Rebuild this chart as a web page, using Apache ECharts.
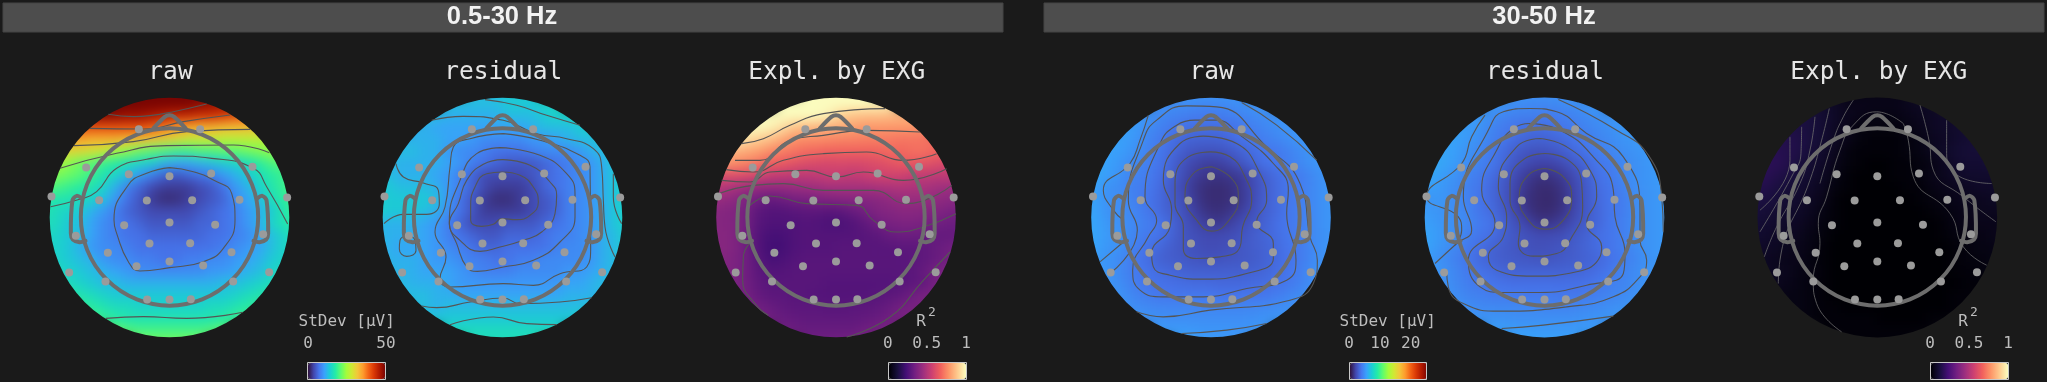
<!DOCTYPE html>
<html><head><meta charset="utf-8">
<style>html,body{margin:0;padding:0;background:#1a1a1a}#c{width:2047px;height:382px;background:#1a1a1a}</style>
<script src="https://cdn.jsdelivr.net/npm/echarts@6/dist/echarts.min.js"></script>
</head><body><div id="c"></div>
<script>
// Field values. Each row is centred on the map; rows run from top to bottom.
// raw / residual 0.5-30 Hz in µV; raw / residual 30-50 Hz in 0.1 µV; Expl. by EXG in R² x 100.
const rawLow=[
[50,50,50,50,50,50],
[50,50,50,50,50,50,50,49,48,47],
[49,49,49,48,48,47,46,45,45,44,44,43,41,40],
[41,41,41,41,41,41,40,38,36,35,34,34,33,33,33,32],
[35,35,34,34,34,33,33,32,31,30,28,28,28,27,27,27,27,27],
[31,30,30,29,28,25,24,22,21,20,19,19,20,20,21,21,22,23,24,25],
[26,24,22,21,19,18,16,15,14,12,11,11,12,13,14,15,16,18,20,21],
[24,23,22,21,19,17,15,13,10,8,6,5,6,7,8,10,12,14,16,18,19,21],
[21,20,19,18,17,15,12,8,6,4,3,3,3,4,5,7,10,12,15,17,19,21],
[18,17,17,16,15,13,10,7,5,3,2,2,3,4,5,6,9,11,13,16,18,20],
[17,16,15,14,12,10,8,6,5,4,4,4,4,5,6,7,8,10,12,14,17,19],
[16,16,14,13,11,9,8,7,6,5,5,5,5,6,6,7,8,10,12,15,17,18],
[16,15,14,13,11,9,8,7,7,6,6,6,6,6,7,7,8,9,11,13,15,17],
[15,15,14,12,10,9,9,8,7,7,7,7,7,7,7,8,9,10,11,13,15,16],
[16,15,14,13,12,10,9,9,8,8,7,7,8,8,9,9,10,11,12,14,15,16],
[16,15,14,13,12,11,10,9,9,9,9,9,9,10,10,11,12,13,15,16],
[17,16,15,14,13,13,12,12,12,12,12,12,12,12,13,13,14,15,16,17],
[18,17,16,15,14,14,14,14,14,14,14,14,14,14,15,16,17,18],
[19,18,17,16,16,15,15,15,15,15,15,16,16,17,18,19],
[20,19,18,17,17,17,17,17,17,17,17,18,19,20],
[22,21,20,20,20,20,20,20,21,22],
[24,23,23,23,23,24]];
const residualLow=[
[13,13,13,14,14,14],
[13,13,13,13,13,14,14,14,15,15],
[13,13,12,12,12,12,12,13,13,13,14,15,15,16],
[12,12,11,11,11,11,11,11,11,11,12,13,13,13,14,15],
[12,12,12,12,11,11,10,9,9,9,9,10,10,11,12,13,13,14],
[13,13,13,12,12,10,9,9,8,7,7,7,8,9,9,9,10,12,13,14],
[13,12,12,12,12,11,10,8,7,6,5,5,5,6,7,8,9,10,12,14],
[14,13,12,12,12,11,10,8,6,4,4,4,4,5,6,7,8,9,10,12,14,15],
[14,14,13,13,13,12,10,8,6,4,3,3,3,4,6,7,8,9,10,12,14,15],
[15,14,14,14,14,13,10,7,5,3,2,2,3,4,5,6,8,9,10,12,14,15],
[15,14,14,14,13,12,9,7,5,3,3,3,3,4,5,6,8,9,10,12,14,15],
[13,12,12,12,11,10,8,6,4,4,4,5,5,5,6,7,8,9,10,12,14,15],
[13,12,12,12,11,10,8,7,6,5,5,6,6,6,7,8,8,9,10,12,13,15],
[13,12,11,11,11,10,9,8,7,6,6,7,7,7,7,8,9,9,10,12,13,15],
[13,12,12,12,11,10,10,9,8,8,7,7,8,8,9,9,9,9,10,12,13,15],
[13,12,12,11,11,11,10,9,8,8,8,9,9,9,9,10,10,11,12,13],
[13,13,12,12,12,11,10,10,10,10,10,10,10,10,10,11,11,12,13,14],
[13,13,13,12,12,11,11,11,11,11,11,11,11,11,12,12,12,13],
[13,13,12,13,13,13,13,13,13,13,13,13,13,13,13,14],
[14,14,14,14,14,14,14,14,14,14,14,14,14,15],
[16,16,16,16,16,16,16,16,16,16],
[16,16,16,16,16,16]];
const explLow=[
[100,100,100,100,100,100],
[100,100,100,100,100,100,100,100,100,98],
[100,100,100,100,100,100,97,90,88,87,87,86,85,84],
[100,100,98,94,88,86,84,83,82,80,78,78,78,78,78,77],
[98,94,90,87,82,77,76,76,75,74,74,73,73,72,71,71,70,70],
[88,84,82,80,76,73,71,69,68,67,67,67,67,67,69,68,70,70,67,67],
[80,76,74,71,66,65,62,60,59,58,59,58,59,60,62,65,64,62,60,58],
[62,60,61,60,58,54,53,52,52,53,55,54,53,55,57,57,56,53,53,52,53,52],
[50,50,47,44,42,42,42,43,44,45,46,46,46,46,47,48,49,48,47,45,44,43],
[44,42,40,36,33,30,32,34,35,36,37,38,39,38,39,41,43,43,43,41,40,38],
[40,38,37,34,28,26,26,27,28,28,27,28,31,34,37,38,39,39,38,37,35,34],
[38,38,37,34,27,25,25,25,26,25,24,24,26,29,33,35,36,36,35,33,32,32],
[38,39,37,33,26,23,23,25,26,26,26,26,26,27,28,31,32,32,31,30,30,30],
[38,39,37,33,26,22,22,25,26,26,26,27,27,27,27,27,28,28,29,31,33,34],
[38,38,36,33,27,23,24,26,27,27,27,27,27,27,27,27,27,28,29,31,34,35],
[37,36,33,28,26,26,27,27,27,27,27,27,27,27,27,27,28,31,35,36],
[37,36,33,29,27,27,27,27,27,26,26,26,26,26,26,27,28,30,35,36],
[37,34,30,28,28,27,27,26,26,26,26,26,27,28,29,33,35,36],
[36,33,31,29,28,28,28,27,27,28,28,29,31,34,35,36],
[35,33,31,30,29,29,29,29,29,30,31,33,35,36],
[33,32,31,31,31,31,31,33,35,36],
[33,33,33,34,35,36]];
const rawHigh=[
[50,50,50,50,50,50],
[48,47,46,45,44,44,45,47,48,50],
[52,50,45,42,41,39,38,38,40,42,44,46,48,50],
[54,52,46,42,38,35,33,33,33,34,37,40,43,46,48,50],
[55,53,50,44,39,35,31,29,29,29,31,35,37,40,43,46,49,51],
[56,54,52,48,43,38,33,28,24,23,23,25,29,33,36,37,41,45,49,51],
[55,53,49,44,41,37,31,24,19,16,16,19,24,30,35,37,40,44,48,50],
[58,56,52,47,42,40,35,30,23,16,13,12,13,15,21,28,33,36,39,44,48,50],
[56,52,47,45,40,38,34,27,21,14,10,9,10,14,20,27,32,37,39,44,48,50],
[56,52,47,46,41,37,33,27,23,15,10,9,10,13,20,28,32,37,40,44,48,50],
[56,53,47,46,43,38,33,28,24,17,12,10,12,16,22,28,32,37,40,44,48,50],
[56,54,49,47,44,40,37,32,25,20,16,13,16,21,25,29,34,37,40,44,48,50],
[57,54,50,48,43,38,36,31,25,22,20,20,21,23,27,30,33,37,40,44,47,50],
[57,53,49,47,41,36,32,28,25,23,21,21,22,25,27,29,32,36,38,44,48,50],
[56,50,48,44,38,34,29,27,26,24,23,23,24,25,26,29,32,35,38,44,48,50],
[53,48,44,38,36,33,31,29,28,28,28,28,28,29,30,33,36,40,46,50],
[52,49,45,40,36,35,34,33,32,32,31,31,31,32,33,35,37,41,46,50],
[50,48,42,40,37,36,36,37,37,36,35,36,36,36,39,42,45,49],
[50,46,44,43,43,43,43,42,42,42,42,43,44,45,47,50],
[50,49,47,46,46,46,46,46,46,46,47,48,49,50],
[52,51,51,50,49,49,49,49,49,50],
[55,53,52,51,50,50]];
const residualHigh=[
[50,49,49,49,50,51],
[52,50,47,45,44,44,45,47,49,51],
[54,51,47,43,41,41,40,39,40,42,45,47,49,51],
[55,52,49,43,39,36,33,33,34,37,39,42,45,47,50,52],
[56,54,51,47,42,37,33,30,29,30,32,36,38,42,45,48,50,52],
[57,55,53,48,44,38,33,28,24,23,24,27,32,36,40,43,46,48,50,52],
[57,55,52,46,42,38,32,25,21,18,18,21,26,31,37,39,43,47,49,51],
[58,56,52,48,43,39,34,28,21,15,12,12,15,21,28,35,38,43,47,49,51,52],
[54,53,50,46,41,37,32,26,19,13,9,9,12,19,26,33,36,41,46,48,50,52],
[51,49,50,45,42,36,32,26,18,11,9,8,11,18,26,32,36,39,45,48,50,52],
[53,50,48,46,43,37,33,27,20,13,9,9,12,19,26,31,36,39,45,48,50,52],
[55,52,49,47,44,39,36,30,23,18,13,13,16,22,27,31,37,40,45,48,50,52],
[56,54,50,47,41,37,34,29,25,23,21,21,22,26,29,34,36,40,45,48,50,52],
[56,53,48,44,38,34,30,27,25,23,22,23,24,27,30,33,36,40,45,48,50,52],
[55,50,46,41,37,32,29,27,26,25,24,24,26,27,29,31,35,38,43,47,49,52],
[52,48,44,38,36,33,30,29,29,29,29,29,30,31,34,37,42,45,48,51],
[52,48,44,40,37,36,35,34,34,34,34,34,34,35,37,40,42,45,48,51],
[50,46,42,41,39,38,38,38,38,38,37,37,38,40,42,44,47,50],
[50,46,44,44,44,44,44,43,42,42,43,44,45,46,48,50],
[52,50,49,48,47,47,47,47,47,47,48,49,50,51],
[53,53,52,52,51,51,51,51,52,52],
[55,55,54,54,54,54]];
const explHigh=[
[3,3,3,3,3,3],
[8,6,4,4,4,4,4,5,6,6],
[12,11,9,7,5,4,3,3,3,4,5,6,7,8],
[13,12,11,9,6,4,2,2,2,2,3,4,6,7,8,9],
[14,14,13,11,9,6,4,2,1,1,1,2,3,5,6,8,9,10],
[15,15,14,13,10,8,5,2,1,1,1,1,2,3,5,7,9,10,10,10],
[16,16,14,11,9,7,4,2,1,0,0,1,1,2,3,5,8,9,9,10],
[16,16,14,12,10,8,6,3,1,0,0,0,1,1,2,4,5,7,8,8,8,8],
[14,14,12,10,9,7,5,2,1,0,0,0,0,1,1,3,4,5,6,7,7,7],
[12,12,11,9,8,6,4,1,0,0,0,0,0,0,1,2,3,4,5,5,6,6],
[11,10,9,8,7,5,3,1,0,0,0,0,0,0,0,1,2,3,4,5,5,5],
[10,9,8,7,6,4,2,1,0,0,0,0,0,0,0,0,1,3,4,4,4,4],
[9,8,7,6,5,3,2,0,0,0,0,0,0,0,0,0,1,2,3,3,4,4],
[8,7,6,5,4,3,1,0,0,0,0,0,0,0,0,0,0,1,2,3,3,4],
[7,6,5,4,4,2,1,0,0,0,0,0,0,0,0,0,0,1,2,2,3,3],
[6,5,5,3,3,1,0,0,0,0,0,0,0,0,0,0,1,1,2,2],
[5,5,4,3,2,1,0,0,0,0,0,0,0,0,0,0,0,1,1,2],
[4,3,3,2,1,0,0,0,0,0,0,0,0,0,0,1,1,1],
[3,3,2,1,1,0,0,0,0,0,0,0,0,0,1,1],
[2,2,1,1,1,1,1,0,0,0,0,1,1,1],
[1,1,1,1,1,1,1,1,1,1],
[1,1,1,1,1,1]];

// Contour lines on each map's own head-plot axes
const contoursRawLow=[
[[325,343],[400,350],[450,347],[520,335],[620,312]],
[[270,385],[430,387],[550,365],[690,345]],
[[222,437],[400,425],[560,395],[750,388]],
[[180,505],[350,460],[500,437],[700,435],[808,458]],
[[152,620],[239,598],[290,575],[350,505],[440,478],[520,468],[635,475],[760,505],[800,560],[863,672]],
[[509,503],[440,520],[385,555],[342,660],[350,700],[385,785],[420,813],[509,803],[610,785],[670,745],[705,660],[695,580],[640,540],[580,515],[509,503]],
[[318,955],[430,950],[560,955],[728,937]]];
const contoursResidualLow=[
[[428,395],[380,400],[345,440],[332,500],[332,540],[365,558],[400,552],[425,535],[470,538],[510,525],[535,485],[520,440],[480,405],[428,395]],
[[428,358],[370,372],[320,420],[295,490],[268,550],[300,600],[360,633],[420,620],[490,600],[545,575],[585,520],[590,465],[570,425],[510,375],[428,358]],
[[420,322],[350,340],[300,420],[268,545],[290,610],[320,680],[352,693],[430,680],[520,660],[600,605],[645,530],[645,460],[620,400],[540,345],[420,322]],
[[430,280],[330,295],[280,320],[270,380],[255,500],[225,575],[258,650],[240,715],[270,740],[430,730],[520,735],[600,700],[680,680],[692,620],[690,380],[660,345],[540,300],[430,280]],
[[215,240],[310,228],[430,240],[530,280],[620,295],[700,325],[725,380],[730,480],[735,560],[765,650]],
[[108,370],[130,410],[190,428],[235,450],[238,490],[200,522],[130,522],[72,550]],
[[145,585],[120,600],[118,625],[140,648],[168,630],[165,600],[145,585]],
[[185,797],[230,802],[330,785],[430,773],[480,790],[600,785],[695,772]],
[[270,853],[400,830],[500,850],[590,853]],
[[375,178],[470,195],[560,225],[660,255]],
[[760,400],[760,470],[785,550]]];
const contoursExplLow=[
[[155,310],[220,295],[300,255],[400,220],[585,205]],
[[135,360],[210,360],[300,300],[400,285],[530,270],[690,275]],
[[108,388],[190,395],[280,360],[400,340],[530,335],[640,360],[740,340]],
[[95,420],[180,425],[240,395],[350,390],[440,410],[520,395],[640,420],[770,385]],
[[85,460],[190,435],[280,430],[400,450],[550,450],[650,490],[785,435]],
[[180,495],[240,467],[350,490],[500,495],[550,540],[620,575],[700,560],[798,520]],
[[470,890],[600,830],[700,720],[780,635]],
[[178,610],[160,650],[158,720],[195,790],[235,825]]];
const contoursRawHigh=[
[[455,380],[400,400],[375,470],[410,540],[455,573],[515,530],[535,470],[515,415],[455,380]],
[[450,335],[385,350],[345,430],[345,490],[370,560],[370,625],[410,655],[480,650],[540,620],[548,560],[575,480],[555,410],[510,350],[450,335]],
[[430,288],[360,310],[310,420],[335,510],[330,560],[275,640],[280,680],[330,705],[430,717],[560,700],[640,655],[640,610],[590,545],[620,480],[600,400],[530,310],[430,288]],
[[405,240],[350,255],[300,310],[255,470],[290,540],[265,590],[218,690],[240,750],[310,770],[430,770],[560,745],[680,720],[708,660],[680,520],[685,450],[640,370],[540,285],[470,240],[405,240]],
[[150,700],[232,570],[205,480],[250,300],[290,240],[380,197],[470,200],[620,320],[720,430],[750,590],[772,660],[760,730],[690,780],[450,810],[310,830],[230,815]],
[[265,225],[240,300],[210,370],[130,450],[160,510],[190,540]],
[[120,665],[185,610]],
[[545,187],[650,255],[770,360]],
[[365,880],[500,870],[620,850]]];
const contoursResidualHigh=[
[[435,385],[385,405],[358,470],[385,540],[435,567],[490,540],[515,470],[490,410],[435,385]],
[[435,340],[375,355],[330,430],[330,480],[360,560],[355,610],[400,648],[470,640],[510,600],[548,500],[545,430],[505,360],[435,340]],
[[420,295],[350,320],[295,440],[320,530],[310,590],[265,650],[290,690],[400,708],[530,695],[600,650],[605,620],[560,550],[590,470],[570,390],[500,320],[420,295]],
[[390,250],[340,265],[290,330],[245,450],[285,550],[205,660],[240,740],[310,757],[420,757],[560,735],[670,700],[675,640],[645,530],[640,450],[580,350],[480,270],[390,250]],
[[140,690],[145,740],[190,790],[300,813],[500,800],[640,770],[720,710],[740,660],[720,600],[720,510],[670,350],[560,280],[470,215],[390,205],[310,215],[270,260],[190,470],[215,570],[170,610],[105,670]],
[[255,225],[215,290],[185,370],[80,470],[175,530],[185,570],[165,615]],
[[475,178],[650,270],[745,345],[785,470],[790,575]],
[[305,865],[430,855],[640,828]]];
const contoursExplHigh=[
[[370,180],[340,230],[310,300],[270,430]],
[[520,250],[440,215],[370,255],[330,330],[290,470],[265,550],[270,610],[250,720],[260,790],[335,875]],
[[298,205],[275,300],[240,420],[150,660],[145,730]],
[[255,230],[240,330],[210,430],[140,560],[103,650]],
[[215,260],[213,340],[190,400],[90,575]],
[[180,290],[180,360],[90,510]],
[[520,250],[535,300],[550,410],[660,520],[700,620],[770,675]],
[[570,195],[597,300],[610,390],[700,470],[798,545]],
[[650,240],[650,340],[690,410],[785,430]]];

// Electrode positions relative to the head centre, and the head outline
const sensors=[[-92,-265],[92,-265],[-250,-150],[249,-152],[-122,-130],[0,-124],[125,-132],[-354,-63],[353,-60],[-211,-52],[-68,-51],[68,-52],[210,-53],[-136,23],[0,15],[137,22],[-281,55],[281,50],[-60,78],[62,77],[-185,106],[186,104],[-99,146],[0,132],[101,144],[-301,165],[299,164],[-192,192],[191,192],[-67,246],[0,246],[64,245]];
const nose=[[-49,-267],[-14,-302],[0,-307],[14,-302],[49,-267]];
const earLeft=[[-264,-58],[-278,-65],[-291,-52],[-296,48],[-290,66],[-270,74],[-252,70]];
const earRight=[[264,-58],[278,-65],[291,-52],[296,48],[290,66],[270,74],[252,70]];

const titles=['raw','residual','Expl. by EXG','raw','residual','Expl. by EXG'];
const headers=['0.5-30 Hz','30-50 Hz'];
const turbo=['#30123b','#4145ab','#4675ed','#39a2fc','#1bcfd4','#24eca6','#61fc6c','#a4fc3b','#d1e834','#f3c63a','#fe9b2d','#f36315','#d93806','#b11901','#7a0402'];
const magma=['#000004','#180f3d','#440f76','#721f81','#9e2f7f','#cd4071','#f1605d','#fd9668','#feca8d','#fcfdbf'];

// Layout
const fields=[rawLow,residualLow,explLow,rawHigh,residualHigh,explHigh];
const contours=[contoursRawLow,contoursResidualLow,contoursExplLow,contoursRawHigh,contoursResidualHigh,contoursExplHigh];
const px=[169.5,502.5,836,1211,1544.5,1877.3], pyc=217.5, R=119.8, HALF=132, N=22;
const axC=[[508.5,652.5],[427.5,531.5],[438,531.5],[453,532],[433.5,532],[442,532]];
const titleX=[170.5,503.3,836.7,1211.7,1545,1878.7];
const MONO='"DejaVu Sans Mono"';

const cats=Array.from({length:N},(_,i)=>i);
const grid=[],xAxis=[],yAxis=[],series=[];
px.forEach(x=>{
  grid.push({left:x-HALF,top:pyc-HALF,width:2*HALF,height:2*HALF});
  xAxis.push({type:'category',data:cats,show:false,gridIndex:grid.length-1});
  yAxis.push({type:'category',data:cats,show:false,inverse:true,gridIndex:grid.length-1});
});
px.forEach((x,i)=>{
  grid.push({left:x-120,top:pyc-120,width:240,height:240});
  xAxis.push({type:'value',min:axC[i][0]-360,max:axC[i][0]+360,show:false,gridIndex:grid.length-1});
  yAxis.push({type:'value',min:axC[i][1]-360,max:axC[i][1]+360,inverse:true,show:false,gridIndex:grid.length-1});
});
fields.forEach((rows,i)=>{
  const data=[];
  rows.forEach((r,j)=>{const o=(N-r.length)/2;r.forEach((v,k)=>data.push([o+k,j,v]));});
  series.push({type:'heatmap',xAxisIndex:i,yAxisIndex:i,data,zlevel:0,silent:true,progressive:0,animation:false,itemStyle:{borderWidth:0}});
});
const renderHead=(p,api)=>{
  const cx=api.value(0),cy=api.value(1);
  const map=a=>a.map(([dx,dy])=>api.coord([cx+dx,cy+dy]));
  const c=api.coord([cx,cy-1.5]);
  const st={stroke:'#6d6d6d',lineWidth:4,fill:'none',lineJoin:'round',lineCap:'round'};
  return {type:'group',children:[
    {type:'circle',shape:{cx:c[0],cy:c[1],r:api.size([266,0])[0]},style:st},
    {type:'polyline',shape:{points:map(nose),smooth:0.3},style:st},
    {type:'polyline',shape:{points:map(earLeft),smooth:0.3},style:st},
    {type:'polyline',shape:{points:map(earRight),smooth:0.3},style:st}]};
};
contours.forEach((lines,i)=>{
  lines.forEach(pts=>series.push({type:'line',xAxisIndex:6+i,yAxisIndex:6+i,data:pts,smooth:0.5,symbol:'none',silent:true,animation:false,zlevel:1,z:3,clip:false,
    lineStyle:{color:i===5?'#6f6f6f':'#555555',width:i===5?0.8:1.1}}));
  series.push({type:'custom',xAxisIndex:6+i,yAxisIndex:6+i,data:[axC[i]],renderItem:renderHead,silent:true,animation:false,zlevel:1,z:4,clip:false});
  series.push({type:'scatter',xAxisIndex:6+i,yAxisIndex:6+i,data:sensors.map(s=>[axC[i][0]+s[0],axC[i][1]+s[1]]),symbolSize:8,silent:true,animation:false,zlevel:1,z:5,clip:false,itemStyle:{color:'#9b9b9b',opacity:1}});
});
const vm=(idx,max,colors,left)=>({type:'continuous',seriesIndex:idx,min:0,max,inRange:{color:colors},calculable:false,orient:'horizontal',left,top:363,itemWidth:16,itemHeight:77,padding:0,text:null,zlevel:1,z:6,hoverLink:false,realtime:false});
const visualMap=[vm([0,1],50,turbo,308),vm([2],100,magma,889),vm([3,4],250,turbo,1350),vm([5],100,magma,1931)];

const txt=(text,x,y,size,fill,weight,family)=>({type:'text',zlevel:1,z:10,silent:true,style:{text,x,y,fill,align:'center',verticalAlign:'middle',font:(weight||'normal')+' '+size+'px '+(family||MONO)}});
const rect=(x,y,w,h,fill,stroke,lw)=>({type:'rect',zlevel:1,z:8,silent:true,shape:{x,y,width:w,height:h},style:{fill,stroke,lineWidth:lw}});
const elements=[
  rect(3,3,1000,29,'#4d4d4d','#454545',1),rect(1044,3,1000,29,'#4d4d4d','#454545',1),
  txt(headers[0],502,17,25.5,'#f2f2f2','bold','"Liberation Sans"'),txt(headers[1],1544,17,25.5,'#f2f2f2','bold','"Liberation Sans"'),
  rect(307.5,362.5,78,17,'none','#c8c8c8',1),rect(888.5,362.5,78,17,'none','#c8c8c8',1),rect(1349.5,362.5,77,17,'none','#c8c8c8',1),rect(1930.5,362.5,78,17,'none','#c8c8c8',1)];
titles.forEach((t,i)=>elements.push(txt(t,titleX[i],73,24.5,'#e6e6e6')));
const L='#bdbdbd';
[['StDev [μV]',346.7,322],['0',308,344],['50',386,344],['R',921,322],['0',887.7,344],['0.5',926.7,344],['1',966,344],
 ['StDev [μV]',1387.7,322],['0',1349,344],['10',1380,344],['20',1410.7,344],['R',1963,322],['0',1930,344],['0.5',1969,344],['1',2008,344]]
 .forEach(a=>elements.push(txt(a[0],a[1],a[2],16,L)));
elements.push(txt('2',932,313,13,L),txt('2',1974,313,13,L));

const chart=echarts.init(document.getElementById('c'),null,{renderer:'canvas'});
chart.setOption({backgroundColor:'#1a1a1a',animation:false,grid,xAxis,yAxis,visualMap,series,graphic:{elements}});

// The field layer is softened and cut to the scalp circles after ECharts has drawn it.
function shapeField(){
  const cv=document.querySelector('#c canvas[data-zr-dom-id="zr_0"]')||document.querySelector('#c canvas');
  if(!cv)return;
  let d='';
  axC.forEach((c,i)=>{
    const p=chart.convertToPixel({gridIndex:6+i},c);
    d+=`M${p[0]-R} ${p[1]} a${R} ${R} 0 1 0 ${2*R} 0 a${R} ${R} 0 1 0 ${-2*R} 0 Z `;
  });
  cv.style.filter='blur(6px)';
  cv.style.clipPath=`path('${d}')`;
}
shapeField();
chart.on('finished',shapeField);
</script></body></html>
